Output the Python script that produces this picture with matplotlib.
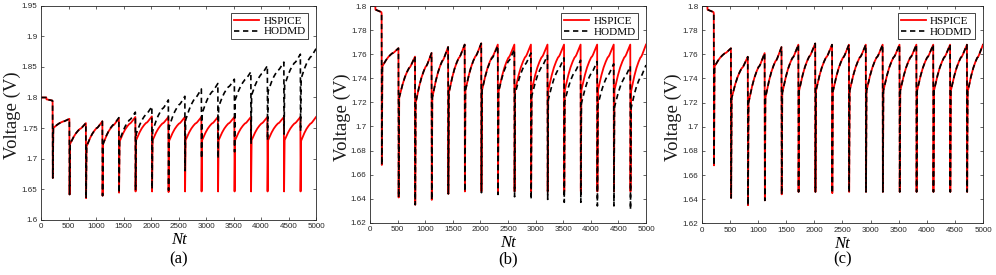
import matplotlib
matplotlib.use("Agg")
import matplotlib.pyplot as plt
import numpy as np

# ---- data ----
# start of the trace, before the first drop
t_start = [0, 95, 100, 205, 210]
v_start = [1.800, 1.800, 1.797, 1.795, 1.794]

# time of each drop (cycle start)
t_drop = [210, 515, 815, 1115, 1415, 1715, 2015, 2315, 2615, 2915,
          3215, 3515, 3815, 4115, 4415, 4715]
t_end = 5000

# shape of one charging rise (fraction of time, fraction of rise)
rise_t = [0.0, 0.1, 0.22, 0.36, 0.5, 0.62, 0.68, 0.74, 0.86, 1.0]
rise_v = [0.0, 0.15, 0.33, 0.5, 0.63, 0.72, 0.74, 0.78, 0.88, 1.0]

# HSPICE: minimum of drop, recovered level, peak at end of cycle
hs_min = [1.668, 1.641, 1.635, 1.639, 1.644, 1.646, 1.646, 1.645,
          1.646, 1.646, 1.646, 1.646, 1.646, 1.646, 1.646, 1.646]
hs_rec = [1.750, 1.724, 1.720, 1.724, 1.728, 1.730, 1.730, 1.729,
          1.730, 1.730, 1.730, 1.730, 1.730, 1.730, 1.730, 1.729]
hs_peak = [1.765, 1.758, 1.761, 1.766, 1.768, 1.769, 1.768, 1.768,
           1.768, 1.768, 1.768, 1.768, 1.768, 1.768, 1.768, 1.768]

# HODMD, panel (a)
a_min = [1.668, 1.641, 1.635, 1.639, 1.644, 1.648, 1.650, 1.648,
         1.680, 1.700, 1.700, 1.711, 1.725, 1.730, 1.740, 1.745]
a_rec = [1.750, 1.724, 1.720, 1.724, 1.730, 1.740, 1.745, 1.752,
         1.763, 1.774, 1.785, 1.796, 1.804, 1.810, 1.820, 1.831]
a_peak = [1.765, 1.758, 1.761, 1.767, 1.776, 1.785, 1.796, 1.802,
          1.814, 1.823, 1.830, 1.842, 1.852, 1.858, 1.871, 1.880]

# HODMD, panel (b)
b_min = [1.668, 1.641, 1.635, 1.639, 1.644, 1.646, 1.645, 1.6435,
         1.6416, 1.6394, 1.6394, 1.637, 1.637, 1.634, 1.634, 1.631]
b_rec = [1.750, 1.724, 1.720, 1.724, 1.728, 1.730, 1.730, 1.729,
         1.727, 1.725, 1.722, 1.721, 1.719, 1.718, 1.716, 1.715]
b_peak = [1.765, 1.758, 1.761, 1.766, 1.768, 1.769, 1.767, 1.764,
          1.761, 1.759, 1.757, 1.755, 1.754, 1.752, 1.750, 1.751]

# HODMD, panel (c) follows HSPICE closely
c_min = list(hs_min)
c_rec = list(hs_rec)
c_peak = list(hs_peak)

x_ticks = list(range(0, 5001, 500))
a_yticks = [1.6, 1.65, 1.7, 1.75, 1.8, 1.85, 1.9, 1.95]
bc_yticks = [1.62, 1.64, 1.66, 1.68, 1.7, 1.72, 1.74, 1.76, 1.78, 1.8]


def build_wave(vmin, vrec, vpeak):
    t = list(t_start)
    v = list(v_start)
    for i, td in enumerate(t_drop):
        t0 = td + 14
        t += [td + 4, t0]
        v += [vmin[i], vrec[i]]
        t1 = t_drop[i + 1] if i + 1 < len(t_drop) else t_end
        span = t1 - t0
        for f, g in zip(rise_t[1:], rise_v[1:]):
            t.append(t0 + f * span)
            v.append(vrec[i] + g * (vpeak[i] - vrec[i]))
    return np.array(t), np.array(v)


def fmt(x):
    return ("%.2f" % x).rstrip("0").rstrip(".")


serif = ["Liberation Serif", "DejaVu Serif"]
sans = ["Liberation Sans", "DejaVu Sans"]
gray = "#262626"
W, H = 996, 275

fig = plt.figure(figsize=(9.96, 2.75), dpi=100)
boxes = [[0.0412, 0.2018, 0.2761, 0.7764],
         [0.3715, 0.1900, 0.2771, 0.7880],
         [0.7048, 0.1880, 0.2821, 0.7900]]
ylab_x = [12, 342, 673]   # pixel centres of the y labels
cap_x = [179, 508, 843]   # pixel centres of the captions
panels = [(a_min, a_rec, a_peak, a_yticks, (1.6, 1.95), "(a)"),
          (b_min, b_rec, b_peak, bc_yticks, (1.62, 1.8), "(b)"),
          (c_min, c_rec, c_peak, bc_yticks, (1.62, 1.8), "(c)")]

th, vh = build_wave(hs_min, hs_rec, hs_peak)

for k, (box, (mn, rc, pk, yt, ylim, cap)) in enumerate(zip(boxes, panels)):
    ax = fig.add_axes(box)
    td, vd = build_wave(mn, rc, pk)
    ax.plot(th, vh, color="#ff0000", lw=1.3, label="HSPICE")
    ax.plot(td, vd, color="black", lw=1.2, ls=(0, (3.2, 2.2)), label="HODMD")
    ax.set_xlim(0, 5000)
    ax.set_ylim(*ylim)
    ax.set_xticks(x_ticks)
    ax.set_yticks(yt)
    ax.set_yticklabels([fmt(y) for y in yt])
    ax.tick_params(direction="in", top=True, right=True, length=2.5,
                   width=0.5, colors=gray, labelsize=5.8, pad=2.5)
    for lab in ax.get_xticklabels() + ax.get_yticklabels():
        lab.set_family(sans)
    for sp in ax.spines.values():
        sp.set_color(gray)
        sp.set_linewidth(0.6)
    ax.set_xlabel("Nt", family=serif, style="italic", fontsize=12,
                  labelpad=1.5)
    fig.text(ylab_x[k] / W, box[1] + box[3] / 2 - 0.01, "Voltage (V)",
             rotation=90, ha="center", va="center", family=serif,
             fontsize=13.5, color="#1a1a1a")
    fig.text(cap_x[k] / W, 1 - 259 / H, cap, ha="center", va="center",
             family=serif, fontsize=12)
    leg = ax.legend(loc="upper right", bbox_to_anchor=(0.972, 0.967),
                    prop={"family": serif, "size": 8}, handlelength=2.3,
                    borderpad=0.25, labelspacing=0.1, handletextpad=0.35,
                    fancybox=False, framealpha=1, borderaxespad=0)
    leg.get_frame().set_edgecolor(gray)
    leg.get_frame().set_linewidth(0.6)

fig.savefig("out.png", dpi=100)
